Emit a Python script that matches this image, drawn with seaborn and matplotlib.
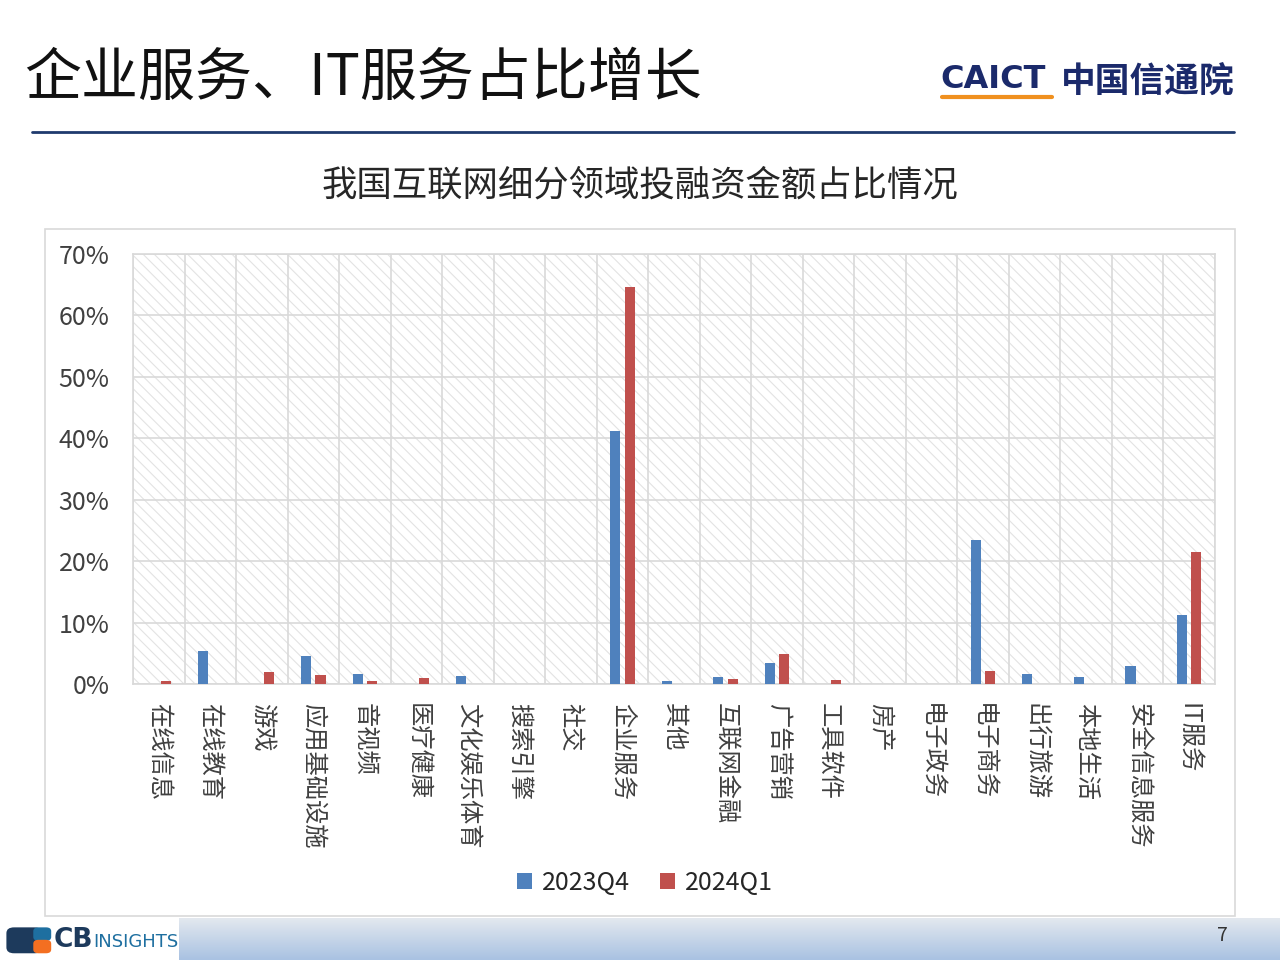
import numpy as np
import pandas as pd
import seaborn as sns
import matplotlib.pyplot as plt
from matplotlib.patches import Rectangle, FancyBboxPatch
from matplotlib.lines import Line2D
from matplotlib.ticker import PercentFormatter

# data
categories = ["在线信息", "在线教育", "游戏", "应用基础设施", "音视频", "医疗健康",
              "文化娱乐体育", "搜索引擎", "社交", "企业服务", "其他", "互联网金融",
              "广告营销", "工具软件", "房产", "电子政务", "电子商务", "出行旅游",
              "本地生活", "安全信息服务", "IT服务"]
q4_2023 = [0.0, 5.4, 0.0, 4.6, 1.6, 0.0, 1.3, 0.0, 0.0, 41.2, 0.5, 1.1,
           3.5, 0.0, 0.0, 0.0, 23.5, 1.7, 1.1, 3.0, 11.3]
q1_2024 = [0.5, 0.0, 2.0, 1.5, 0.5, 0.9, 0.0, 0.0, 0.0, 64.7, 0.0, 0.8,
           4.9, 0.65, 0.0, 0.0, 2.1, 0.0, 0.0, 0.0, 21.5]
series_names = ["2023Q4", "2024Q1"]
yticks = [0, 10, 20, 30, 40, 50, 60, 70]

df = pd.DataFrame({
    "category": categories * 2,
    "value": q4_2023 + q1_2024,
    "series": [series_names[0]] * len(categories) + [series_names[1]] * len(categories),
})

sns.set_style("white")
plt.rcParams['font.family'] = ['Noto Sans CJK SC', 'DejaVu Sans']
plt.rcParams['hatch.linewidth'] = 0.8
plt.rcParams['hatch.color'] = '#e3e3e3'

fig = plt.figure(figsize=(12.8, 9.6), dpi=100)

# slide title + rule
fig.text(0.019, 0.918, "企业服务、IT服务占比增长", fontsize=41, color='#111111',
         ha='left', va='center')
fig.add_artist(Line2D([0.025, 0.964], [0.8625, 0.8625], color='#1f3a6e', lw=2))

# CAICT logo as text
fig.text(0.735, 0.917, "CAICT", fontsize=23, fontweight='bold',
         color='#1b2a6b', ha='left', va='center', family=['DejaVu Sans'])
fig.add_artist(Line2D([0.736, 0.822], [0.899, 0.899], color='#f0901e', lw=3))
fig.text(0.829, 0.915, "中国信通院", fontsize=25, fontweight='bold',
         color='#1b2a6b', ha='left', va='center')

# chart frame
fig.add_artist(Rectangle((0.0352, 0.0458), 0.9297, 0.7156, transform=fig.transFigure,
                         fill=False, edgecolor='#d9d9d9', lw=1.2))
fig.text(0.5, 0.807, "我国互联网细分领域投融资金额占比情况", fontsize=25.5,
         color='#262626', ha='center', va='center')

ax = fig.add_axes([0.1039, 0.2875, 0.8453, 0.4479])
ax.add_patch(Rectangle((0, 0), 1, 1, transform=ax.transAxes, facecolor='white',
                       hatch='\\' * 3, edgecolor='#e3e3e3', lw=0, zorder=0))

sns.barplot(data=df, x="category", y="value", hue="series", ax=ax,
            palette=['#4f81bd', '#c0504d'], width=0.56, gap=0.3,
            linewidth=0, saturation=1, zorder=3)

ax.set_xlim(-0.5, len(categories) - 0.5)
ax.set_ylim(0, 70)
ax.set_yticks(yticks)
ax.yaxis.set_major_formatter(PercentFormatter(decimals=0))
ax.set_xticks(np.arange(-0.5, len(categories), 1), minor=True)
ax.grid(axis='y', which='major', color='#d9d9d9', lw=1.2, zorder=1)
ax.grid(axis='x', which='minor', color='#d9d9d9', lw=1.2, zorder=1)
ax.set_axisbelow(True)
ax.tick_params(axis='both', which='both', length=0)
ax.tick_params(axis='y', pad=17, labelsize=18, labelcolor='#404040')
ax.tick_params(axis='x', pad=14, labelsize=17.5, labelcolor='#404040')
for lab in ax.get_xticklabels():
    lab.set_rotation(-90)
    lab.set_ha('center')
    lab.set_va('top')
ax.set_xlabel("")
ax.set_ylabel("")
for s in ax.spines.values():
    s.set_color('#d9d9d9')
    s.set_linewidth(1.2)

handles, labels = ax.get_legend_handles_labels()
ax.get_legend().remove()
fig.legend(handles, labels, loc='center', bbox_to_anchor=(0.504, 0.080), ncol=2,
           frameon=False, fontsize=18, handlelength=0.6, handleheight=0.6,
           handletextpad=0.4, columnspacing=1.2, labelcolor='#262626')

# bottom band
band = fig.add_axes([0.14, 0.0, 0.86, 0.0438])
grad = np.linspace(0, 1, 50).reshape(-1, 1) * np.ones((1, 10))
band.imshow(grad, aspect='auto', cmap=sns.light_palette('#a9c2e2', as_cmap=True),
            extent=(0, 1, 0, 1), vmin=-0.2, vmax=1)
band.axis('off')
fig.text(0.955, 0.026, "7", fontsize=14, color='#333333', ha='center', va='center')

# CB Insights logo
fig.add_artist(FancyBboxPatch((0.006, 0.008), 0.026, 0.025, transform=fig.transFigure,
                              boxstyle='round,pad=0.001,rounding_size=0.006',
                              facecolor='#1d3a5c', edgecolor='none'))
fig.add_artist(FancyBboxPatch((0.027, 0.021), 0.012, 0.012, transform=fig.transFigure,
                              boxstyle='round,pad=0.001,rounding_size=0.004',
                              facecolor='#1e6fa0', edgecolor='none'))
fig.add_artist(FancyBboxPatch((0.027, 0.008), 0.012, 0.012, transform=fig.transFigure,
                              boxstyle='round,pad=0.001,rounding_size=0.004',
                              facecolor='#f36f21', edgecolor='none'))
fig.text(0.042, 0.021, "CB", fontsize=19, fontweight='bold', color='#1d3a5c',
         ha='left', va='center', family=['DejaVu Sans'])
fig.text(0.073, 0.019, "INSIGHTS", fontsize=13, color='#1e6fa0',
         ha='left', va='center', family=['Liberation Sans Narrow', 'DejaVu Sans'])

fig.savefig("out.png", dpi=100)
